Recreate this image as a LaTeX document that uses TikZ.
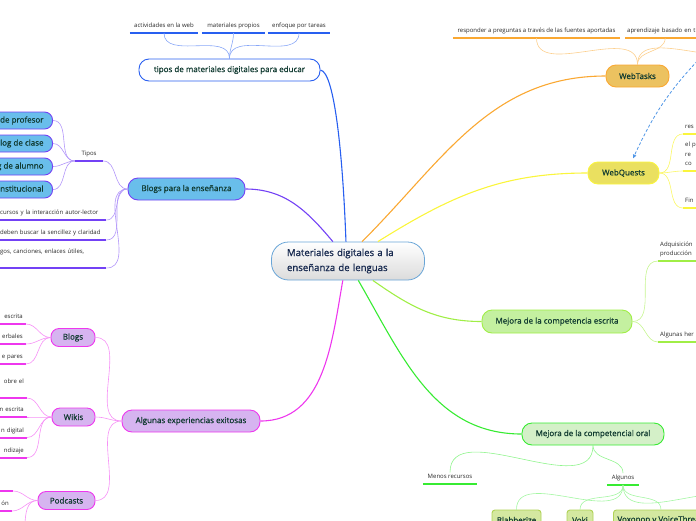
\documentclass[tikz,border=0pt]{standalone}
\usepackage{fontspec}
\setmainfont{Open Sans}
\newfontfamily\topicfont[FakeBold=0.8]{Open Sans}
\usetikzlibrary{arrows.meta}

\definecolor{labeltext}{RGB}{16,58,48}
\definecolor{leaftext}{RGB}{40,40,40}
\definecolor{centreline}{RGB}{105,165,215}
\definecolor{centretext}{RGB}{22,40,78}
\definecolor{tipblue}{RGB}{40,95,240}
\definecolor{taskorange}{RGB}{250,168,50}
\definecolor{taskfill}{RGB}{236,194,96}
\definecolor{questyellow}{RGB}{250,245,60}
\definecolor{questfill}{RGB}{234,224,96}
\definecolor{esclime}{RGB}{160,238,70}
\definecolor{escfill}{RGB}{196,240,160}
\definecolor{oralgreen}{RGB}{55,235,50}
\definecolor{oralfill}{RGB}{212,240,200}
\definecolor{toolline}{RGB}{175,210,85}
\definecolor{toolfill}{RGB}{212,232,160}
\definecolor{blogviolet}{RGB}{115,65,245}
\definecolor{blogfill}{RGB}{105,190,235}
\definecolor{expmagenta}{RGB}{238,55,238}
\definecolor{expfill}{RGB}{214,180,240}
\definecolor{relblue}{RGB}{80,150,230}

\tikzset{
  centre/.style={draw=centreline, line width=0.8pt, rounded corners=17pt,
    top color=white, bottom color=gray!28, minimum width=153pt, minimum height=38pt,
    text width=122pt, align=left, text=centretext, font=\topicfont\fontsize{9.6}{15}\selectfont},
  topic/.style={draw=#1, line width=0.9pt, rounded corners=10pt, minimum height=22pt,
    inner sep=2pt, text=labeltext, font=\topicfont\fontsize{8}{9}\selectfont},
  subtopic/.style={topic=#1, rounded corners=8pt, minimum height=18pt},
  blogtype/.style={subtopic=blogviolet, fill=blogfill, anchor=east, minimum height=17pt, inner xsep=9pt},
  tool/.style={draw=toolline, fill=toolfill, line width=0.9pt, rounded corners=3pt,
    minimum height=20pt, inner xsep=4pt, text=labeltext, font=\topicfont\fontsize{8}{9}\selectfont},
  leaf/.style={inner xsep=2pt, inner ysep=2pt, text=leaftext,
    font=\fontsize{6}{9.5}\selectfont, execute at end node={\rule[-3pt]{0pt}{3pt}}},
  cleaf/.style={leaf, anchor=south},
  rleaf/.style={leaf, anchor=south west, text width=50pt, align=left},
  bleaf/.style={leaf, anchor=south west, text width=104pt, align=left},
  mleaf/.style={leaf, anchor=south east, text width=40pt, align=right, inner xsep=3pt},
  uline/.style={line width=2pt},
  branch/.style={line width=1.1pt},
  twig/.style={line width=0.6pt},
}

\begin{document}
\begin{tikzpicture}[x=1pt, y=1pt]
    \useasboundingbox (0,-520) rectangle (696,0);
    \clip (0,-520) rectangle (696,0);

    % centro
    \node[centre] (mat) at (348,-261) {Materiales digitales a la\\enseñanza de lenguas};

    % tipos de materiales
    \node[topic=tipblue, fill=white, minimum width=181pt] (tipos) at (229.5,-70) {tipos de materiales digitales para educar};
    \node[cleaf, minimum width=68pt] (web) at (164,-33) {actividades en la web};
    \node[cleaf, minimum width=63pt] (propios) at (233.5,-33) {materiales propios};
    \node[cleaf, minimum width=62pt] (tareas) at (299,-33) {enfoque por tareas};
    \foreach \n in {web,propios,tareas} {
        \draw[uline, tipblue] (\n.south west) -- (\n.south east);
        \draw[twig, tipblue!55] (tipos.north) to[out=90,in=-90] (\n.south);
    }
    \draw[branch, tipblue] (mat.96) .. controls (343,-160) and (335,-72) .. (tipos.east);

    % WebTasks
    \node[topic=taskorange, fill=taskfill, minimum width=63pt] (tasks) at (637.5,-76) {WebTasks};
    \node[cleaf, minimum width=167pt] (responder) at (536.5,-38) {responder a preguntas a través de las fuentes aportadas};
    \node[rleaf, text width=76pt] (basado) at (625,-38) {aprendizaje basado en t};
    \coordinate (tasksmore) at (745,-38);
    \foreach \n in {responder,basado} \draw[uline, taskorange] (\n.south west) -- (\n.south east);
    \draw[twig, taskorange!55] (tasks.north) to[out=90,in=-90] (responder.south);
    \draw[twig, taskorange!55] (tasks.north) to[out=90,in=-90] (basado.south);
    \draw[twig, taskorange!55] (tasks.north) to[out=90,in=-90] (tasksmore);
    \draw[branch, taskorange] (mat.54) to[out=45,in=180] (tasks.west);

    % WebQuests
    \node[topic=questyellow, fill=questfill, minimum width=71pt] (quests) at (623.5,-173) {WebQuests};
    \node[rleaf] (res) at (683,-134) {res};
    \node[rleaf] (elp) at (683,-171) {el p\\re\\co};
    \node[rleaf] (fin) at (683,-208) {Fin};
    \foreach \n in {res,elp,fin} {
        \draw[uline, questyellow] (\n.south west) -- (\n.south east);
        \draw[twig, questyellow!80] (quests.east) to[out=0,in=180] (\n.south west);
    }
    \draw[branch, questyellow] (mat.33) to[out=32,in=180] (quests.west);

    % relacion discontinua
    \coordinate (relfrom) at (708,-50);
    \draw[line width=0.8pt, relblue, dash pattern=on 3pt off 2pt, -{Latex[length=4pt,width=4pt]}]
        (relfrom) to[bend right=10] ([xshift=9.5pt,yshift=3pt]quests.north);

    % competencia escrita
    \node[topic=esclime, fill=escfill, minimum width=150pt, minimum height=23pt] (escrita) at (557,-321.5) {Mejora de la competencia escrita};
    \node[rleaf] (adq) at (658,-261) {Adquisición\\producción};
    \node[rleaf] (her) at (658,-342) {Algunas her};
    \foreach \n in {adq,her} {
        \draw[uline, esclime] (\n.south west) -- (\n.south east);
        \draw[twig, esclime!60] (escrita.east) to[out=0,in=180] (\n.south west);
    }
    \draw[branch, esclime] (mat.-38) to[out=-35,in=180] (escrita.west);

    % competencia oral
    \node[topic=oralgreen, fill=oralfill, minimum width=142pt] (oral) at (593,-434) {Mejora de la competencial oral};
    \node[cleaf, minimum width=54pt] (menos) at (450,-484) {Menos recursos};
    \node[cleaf, minimum width=32pt] (algunos) at (623,-485) {Algunos};
    \foreach \n in {menos,algunos} {
        \draw[uline, oralgreen] (\n.south west) -- (\n.south east);
        \draw[twig, oralgreen!55] (oral.south) to[out=-90,in=90] (\n.north);
    }
    \node[tool, minimum width=49pt] (blabberize) at (516.5,-520) {Blabberize};
    \node[tool, minimum width=26pt] (voki) at (580,-520) {Voki};
    \node[tool, anchor=west] (voxopop) at (613,-520) {Voxopop y VoiceThread};
    \coordinate (toolmore) at (745,-512);
    \foreach \n in {blabberize,voki,voxopop} \draw[twig, oralgreen!45] (algunos.south) to[out=-90,in=90] (\n.north);
    \draw[twig, oralgreen!45] (algunos.south) to[out=-90,in=90] (toolmore);
    \draw[branch, oralgreen] (mat.-62) to[out=-60,in=180] (oral.west);

    % blogs para la ensenanza
    \node[topic=blogviolet, fill=blogfill, minimum width=117pt] (blogs) at (186.5,-189) {Blogs para la enseñanza};
    \node[cleaf, minimum width=28pt] (tiposblog) at (89,-161) {Tipos};
    \draw[uline, blogviolet] (tiposblog.south west) -- (tiposblog.south east);
    \draw[twig, blogviolet!55] (blogs.west) to[out=180,in=0] (tiposblog.south east);
    \node[blogtype] (bprof) at (53,-120.5) {Blog de profesor};
    \node[blogtype] (bclase) at (53,-143.5) {Blog de clase};
    \node[blogtype] (balumno) at (53,-166.5) {Blog de alumno};
    \node[blogtype] (binst) at (53,-189.5) {Blog institucional};
    \foreach \n in {bprof,bclase,balumno,binst} \draw[twig, blogviolet!55] (tiposblog.south west) to[out=180,in=0] (\n.east);
    \node[bleaf] (autor) at (-2,-220) {cursos y la interacción autor-lector};
    \node[bleaf] (sencillez) at (-2,-240) {deben buscar la sencillez y claridad};
    \node[bleaf] (enlaces) at (-2,-268) {gos, canciones, enlaces útiles,\\\mbox{}};
    \foreach \n in {autor,sencillez,enlaces} {
        \draw[uline, blogviolet] (\n.south west) -- (\n.south east);
        \draw[twig, blogviolet!55] (blogs.west) to[out=180,in=0] (\n.south east);
    }
    \draw[branch, blogviolet] (mat.128) to[out=130,in=0] (blogs.east);

    % experiencias exitosas
    \node[topic=expmagenta, fill=expfill, minimum width=138pt] (exper) at (191,-421) {Algunas experiencias exitosas};
    \node[subtopic=expmagenta, fill=expfill, minimum width=44pt] (eblogs) at (73,-337.5) {Blogs};
    \node[subtopic=expmagenta, fill=expfill, minimum width=43pt] (ewikis) at (73.5,-417) {Wikis};
    \node[subtopic=expmagenta, fill=expfill, minimum width=57pt] (epod) at (66.5,-500.5) {Podcasts};
    \foreach \n in {eblogs,ewikis,epod} \draw[twig, expmagenta!55] (exper.west) to[out=180,in=0] (\n.east);
    \draw[branch, expmagenta] (mat.-105) to[out=-100,in=0] (exper.east);

    \node[mleaf] (bl1) at (26,-324) {escrita};
    \node[mleaf] (bl2) at (26,-344) {erbales};
    \node[mleaf] (bl3) at (26,-364) {e pares};
    \foreach \n in {bl1,bl2,bl3} {
        \draw[uline, expmagenta] (\n.south west) -- (\n.south east);
        \draw[twig, expmagenta!55] (eblogs.west) to[out=180,in=0] (\n.south east);
    }
    \node[mleaf] (wk1) at (27,-398) {obre el\\\mbox{}};
    \node[mleaf] (wk2) at (27,-417) {n escrita};
    \node[mleaf] (wk3) at (27,-437.5) {n digital};
    \node[mleaf] (wk4) at (27,-457.5) {ndizaje};
    \foreach \n in {wk1,wk2,wk3,wk4} {
        \draw[uline, expmagenta] (\n.south west) -- (\n.south east);
        \draw[twig, expmagenta!55] (ewikis.west) to[out=180,in=0] (\n.south east);
    }
    \node[mleaf] (pd1) at (13,-491) {\mbox{}};
    \node[mleaf] (pd2) at (12,-511) {ón};
    \coordinate (pdmore) at (12,-552);
    \foreach \n in {pd1,pd2} {
        \draw[uline, expmagenta] (\n.south west) -- (\n.south east);
        \draw[twig, expmagenta!55] (epod.west) to[out=180,in=0] (\n.south east);
    }
    \draw[twig, expmagenta!55] (epod.west) to[out=180,in=0] (pdmore);
\end{tikzpicture}
\end{document}
